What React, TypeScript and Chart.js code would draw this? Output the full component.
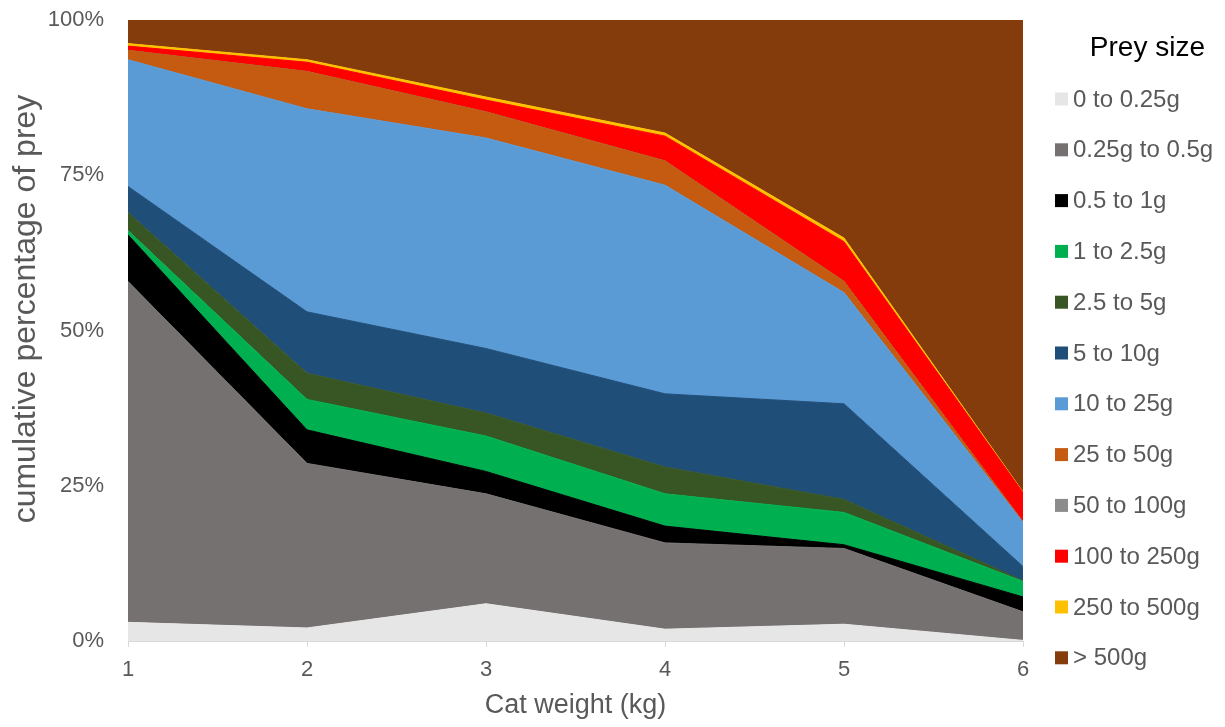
import { useEffect, useRef } from 'react';
import { Chart, registerables } from 'chart.js';

Chart.register(...registerables);

const FONT = '"Liberation Sans", Arial, Helvetica, sans-serif';

// Cat body weight (kg) on the x axis
const catWeights = [1, 2, 3, 4, 5, 6];

// Prey size classes, bottom of the stack first
const preySizes = [
  '0 to 0.25g',
  '0.25g to 0.5g',
  '0.5 to 1g',
  '1 to 2.5g',
  '2.5 to 5g',
  '5 to 10g',
  '10 to 25g',
  '25 to 50g',
  '50 to 100g',
  '100 to 250g',
  '250 to 500g',
  '> 500g',
];

const sizeColors = [
  '#E7E6E6',
  '#767171',
  '#000000',
  '#00B050',
  '#375623',
  '#1F4E79',
  '#5B9BD5',
  '#C55A11',
  '#8C8C8C',
  '#FF0000',
  '#FFC000',
  '#843C0C',
];

// Percentage of prey in each size class, per cat weight
const prey0to025 = [3.0, 2.1, 6.0, 1.9, 2.7, 0.1];
const prey025to05 = [54.9, 26.5, 17.7, 13.9, 12.2, 4.6];
const prey05to1 = [7.5, 5.4, 3.6, 2.7, 0.6, 2.4];
const prey1to25 = [0.7, 4.9, 5.7, 5.2, 5.2, 2.5];
const prey25to5 = [2.9, 4.2, 3.7, 4.3, 2.1, 0.1];
const prey5to10 = [4.2, 9.9, 10.4, 11.8, 15.4, 2.3];
const prey10to25 = [20.4, 32.7, 33.9, 33.6, 17.9, 7.1];
const prey25to50 = [1.5, 6.0, 4.2, 3.9, 1.8, 0.1];
const prey50to100 = [0, 0, 0, 0, 0, 0];
const prey100to250 = [0.7, 1.5, 1.9, 4.0, 6.4, 4.7];
const prey250to500 = [0.4, 0.4, 0.5, 0.5, 0.6, 0.1];
const preyOver500 = [3.8, 6.4, 12.4, 18.2, 35.1, 76.0];

const seriesValues = [
  prey0to025,
  prey025to05,
  prey05to1,
  prey1to25,
  prey25to5,
  prey5to10,
  prey10to25,
  prey25to50,
  prey50to100,
  prey100to250,
  prey250to500,
  preyOver500,
];

const yTicks = [0, 25, 50, 75, 100];
const legendTitle = 'Prey size';
const xTitle = 'Cat weight (kg)';
const yTitle = 'cumulative percentage of prey';

// Draws the y-axis title and the "Prey size" key beside the plot
const preyLegend = {
  id: 'preyLegend',
  afterDraw(chart: any) {
    const { ctx, chartArea } = chart;
    ctx.save();

    // y-axis title, rotated, sitting a little above the plot's middle
    ctx.save();
    ctx.translate(18, 301);
    ctx.rotate(-Math.PI / 2);
    ctx.textAlign = 'center';
    ctx.textBaseline = 'middle';
    ctx.fillStyle = '#595959';
    ctx.font = `32px ${FONT}`;
    ctx.fillText(yTitle, 0, 0);
    ctx.restore();

    const boxX = chartArea.right + 32;
    const textX = boxX + 18;
    const firstY = 91;
    const step = 50.8;
    ctx.textBaseline = 'middle';
    ctx.textAlign = 'right';
    ctx.fillStyle = '#000000';
    ctx.font = `28px ${FONT}`;
    ctx.fillText(legendTitle, chart.width - 12, 40);
    ctx.textAlign = 'left';
    ctx.font = `24px ${FONT}`;
    chart.data.datasets.forEach((ds: any, i: number) => {
      const cy = firstY + i * step;
      ctx.fillStyle = ds.backgroundColor;
      ctx.fillRect(boxX, cy - 6.5, 13, 13);
      ctx.fillStyle = '#595959';
      ctx.fillText(ds.label, textX, cy + 1);
    });
    ctx.restore();
  },
};

export default function App() {
  const canvasRef = useRef<HTMLCanvasElement | null>(null);

  useEffect(() => {
    if (!canvasRef.current) return;
    const datasets = seriesValues.map((vals, i) => ({
      label: preySizes[i],
      data: vals.map((v, j) => ({ x: catWeights[j], y: v })),
      backgroundColor: sizeColors[i],
      borderColor: sizeColors[i],
      borderWidth: 1,
      pointRadius: 0,
      pointHoverRadius: 0,
      tension: 0,
      fill: i === 0 ? 'origin' : '-1',
    }));

    const chart = new Chart(canvasRef.current, {
      type: 'line',
      data: { datasets },
      plugins: [preyLegend],
      options: {
        animation: false,
        responsive: true,
        maintainAspectRatio: false,
        layout: { padding: { left: 0, top: 12, right: 194, bottom: 0 } },
        plugins: {
          legend: { display: false },
          tooltip: { enabled: false },
        },
        scales: {
          x: {
            type: 'linear',
            min: 1,
            max: 6,
            afterFit: (scale: any) => {
              scale.height = 78;
            },
            ticks: {
              stepSize: 1,
              padding: 10,
              color: '#595959',
              font: { family: FONT, size: 22 },
            },
            grid: {
              display: true,
              drawOnChartArea: false,
              drawTicks: true,
              tickLength: 6,
              color: '#D9D9D9',
            },
            border: { display: true, color: '#D9D9D9', width: 1 },
            title: {
              display: true,
              text: xTitle,
              color: '#595959',
              font: { family: FONT, size: 27, lineHeight: 1 },
              padding: { top: 0, bottom: 0 },
            },
          },
          y: {
            type: 'linear',
            stacked: true,
            min: 0,
            max: 100,
            afterFit: (scale: any) => {
              scale.width = 120;
              scale.paddingTop = 0;
              scale.paddingBottom = 0;
            },
            afterBuildTicks: (scale: any) => {
              scale.ticks = yTicks.map((v) => ({ value: v }));
            },
            ticks: {
              padding: 16,
              color: '#595959',
              font: { family: FONT, size: 22 },
              callback: (v: any) => `${v}%`,
            },
            grid: { display: false },
            border: { display: false },
            title: { display: false },
          },
        },
      },
    } as any);

    return () => chart.destroy();
  }, []);

  return (
    <div style={{ position: 'relative', width: '1209px', height: '711px' }}>
      <canvas ref={canvasRef} />
    </div>
  );
}
